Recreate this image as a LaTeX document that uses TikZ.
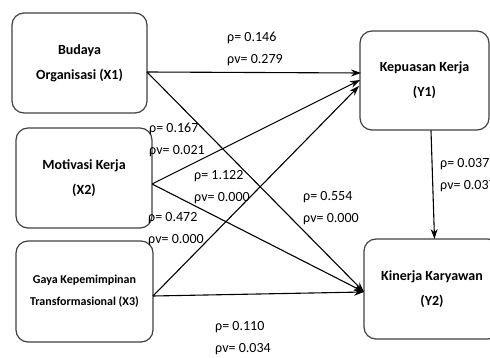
\documentclass[tikz,border=0pt]{standalone}
\usepackage{fontspec}
\setmainfont{Carlito}
\usetikzlibrary{arrows.meta}
\begin{document}
\begin{tikzpicture}[x=1pt,y=-1pt,
  box/.style={draw=black!75, line width=1.2pt, rounded corners=12pt, align=center,
    font=\bfseries\fontsize{14}{25}\selectfont, inner sep=0pt},
  smallbox/.style={box, font=\bfseries\fontsize{12}{22}\selectfont},
  arr/.style={-{Stealth[length=10pt,width=7pt]}, line width=1.1pt},
  lbl/.style={font=\fontsize{14}{22}\selectfont, align=left, anchor=west, inner sep=0pt}]
\useasboundingbox (0,0) rectangle (490,358);
\clip (0,0) rectangle (490,358);

\node[box, minimum width=135pt, minimum height=100pt] (x1) at (79.5,63) {Budaya\\Organisasi (X1)};
\node[box, minimum width=136pt, minimum height=100pt] (x2) at (84,178) {Motivasi Kerja\\(X2)};
\node[smallbox, minimum width=137pt, minimum height=101pt] (x3) at (84.5,291.5) {Gaya Kepemimpinan\\Transformasional (X3)};
\node[box, minimum width=129pt, minimum height=99pt] (y1) at (424.5,80.5) {Kepuasan Kerja\\(Y1)};
\node[box, minimum width=136pt, minimum height=100pt] (y2) at (432,289) {Kinerja Karyawan\\(Y2)};

\coordinate (x1o) at (147,72);
\coordinate (x2o) at (152,184);
\coordinate (x3o) at (153,296);
\coordinate (y1a) at (361,73);
\coordinate (y1b) at (360,80);
\coordinate (y1c) at (359,86);
\coordinate (y2a) at (364,292);
\coordinate (y1o) at (431,130.5);
\coordinate (y2t) at (434.5,239);

\draw[arr] (x1o) -- (y1a);
\draw[arr] (x1o) -- (y2a);
\draw[arr] (x2o) -- (y1b);
\draw[arr] (x2o) -- (y2a);
\draw[arr] (x3o) -- (y1c);
\draw[arr] (x3o) -- (y2a);
\draw[arr] (y1o) -- (y2t);

\node[lbl] (l1) at (227,49) {ρ= 0.146\\ρv= 0.279};
\node[lbl] (l2) at (149,140) {ρ= 0.167\\ρv= 0.021};
\node[lbl] (l3) at (194,187) {ρ= 1.122\\ρv= 0.000};
\node[lbl] (l4) at (148,229) {ρ= 0.472\\ρv= 0.000};
\node[lbl] (l5) at (303,208) {ρ= 0.554\\ρv= 0.000};
\node[lbl] (l6) at (440,175) {ρ= 0.037\\ρv= 0.037};
\node[lbl] (l7) at (215,338) {ρ= 0.110\\ρv= 0.034};
\end{tikzpicture}
\end{document}
